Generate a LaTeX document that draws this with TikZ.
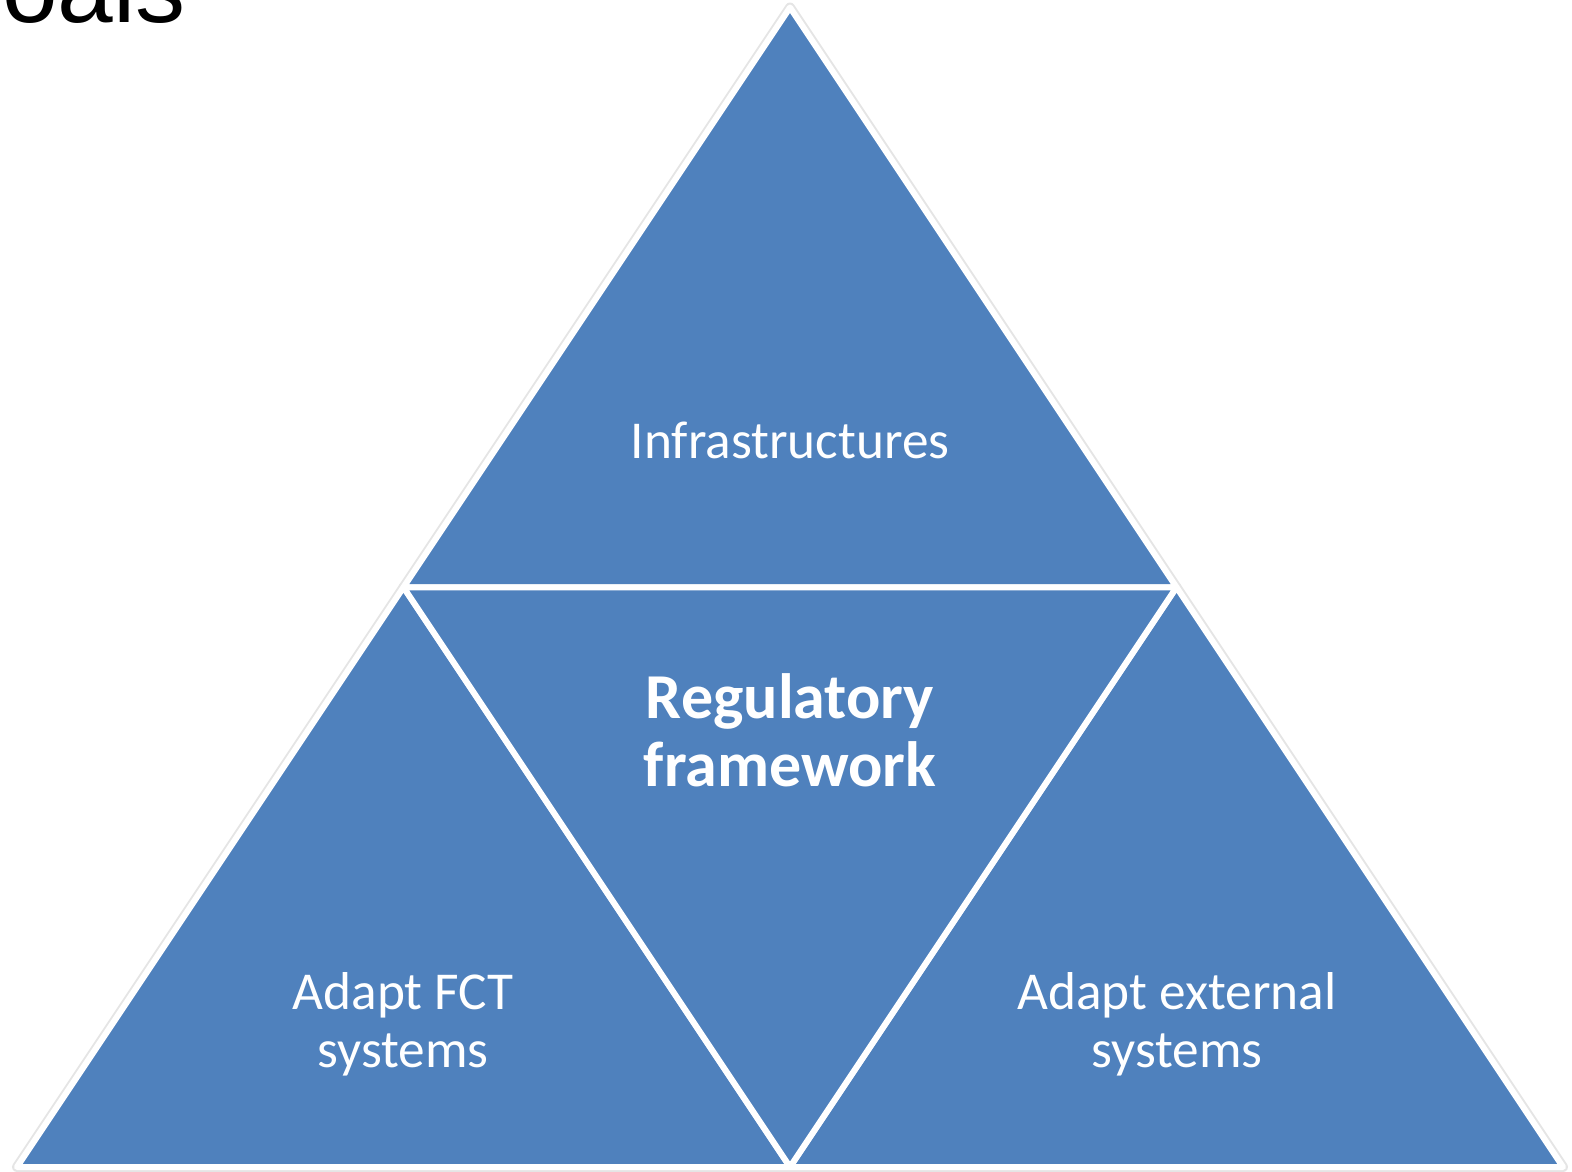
\documentclass[tikz,border=0pt]{standalone}
\usepackage{fontspec}
\setmainfont{Carlito}
\newfontfamily\titlefont{Liberation Sans}
\definecolor{tblue}{HTML}{4F81BD}
\begin{document}
\begin{tikzpicture}[x=1pt,y=-1pt,
  shadowtri/.style={draw=black!10,line width=10pt,line join=round},
  tri/.style={fill=tblue,draw=white,line width=6pt,line join=round},
  lbl/.style={text=white,align=center,font=\fontsize{53.3}{58}\selectfont},
  blbl/.style={text=white,align=center,font=\bfseries\fontsize{64}{68}\selectfont}]
\useasboundingbox (0,0) rectangle (1572,1171);
\coordinate (A) at (790,7.5);
\coordinate (BL) at (17,1167);
\coordinate (BR) at (1563,1167);
\coordinate (ML) at (403.5,587.25);
\coordinate (MR) at (1176.5,587.25);
\coordinate (MB) at (790,1167);
% shadows
\draw[shadowtri] (A) -- (MR) -- (ML) -- cycle;
\draw[shadowtri] (ML) -- (MB) -- (BL) -- cycle;
\draw[shadowtri] (MR) -- (BR) -- (MB) -- cycle;
% triangles
\draw[tri] (A) -- (MR) -- (ML) -- cycle;
\draw[tri] (ML) -- (MB) -- (BL) -- cycle;
\draw[tri] (MR) -- (BR) -- (MB) -- cycle;
\draw[tri] (ML) -- (MR) -- (MB) -- cycle;
% labels
\node[lbl,anchor=base] (infra) at (790,458) {Infrastructures};
\node[blbl] (reg) at (790,730) {Regulatory\\framework};
\node[lbl] (fct) at (403,1024) {Adapt FCT\\systems};
\node[lbl] (ext) at (1177,1024) {Adapt external\\systems};
\node[anchor=base east,inner sep=0pt,font=\titlefont\fontsize{100}{110}\selectfont] (goals) at (186,22) {Goals};
\end{tikzpicture}
\end{document}
